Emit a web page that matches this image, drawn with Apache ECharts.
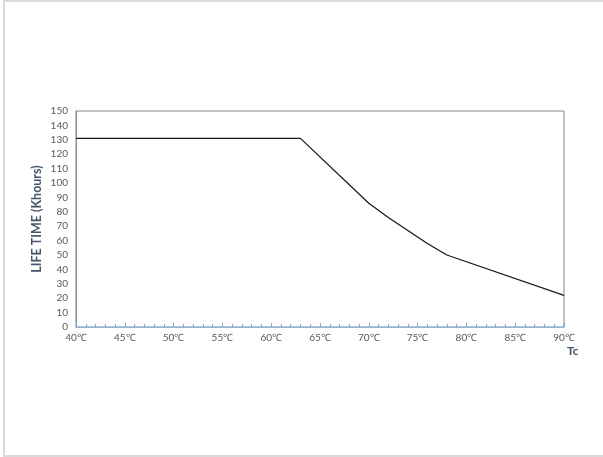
<!DOCTYPE html>
<html>
<head>
<meta charset="utf-8">
<script src="https://cdn.jsdelivr.net/npm/echarts@6/dist/echarts.min.js"></script>
<style>
  html, body { margin: 0; padding: 0; background: #fff; }
  #chart { width: 603px; height: 457px; }
</style>
</head>
<body>
<div id="chart"></div>
<script>
// case temperature (°C) vs life time (Khours)
let temps = [40, 63, 70, 72, 74, 76, 78, 90];
let life = [131, 131, 86, 76, 67, 58, 50, 22];

let font = 'Lato, "Open Sans", sans-serif';

let option = {
    animation: false,
    backgroundColor: '#fff',
    graphic: [
        // light frame round the chart area
        { type: 'rect', shape: { x: 3, y: 0, width: 602, height: 2 }, style: { fill: '#d9d9d9' } },
        { type: 'rect', shape: { x: 3, y: 0, width: 2, height: 457 }, style: { fill: '#d9d9d9' } },
        { type: 'rect', shape: { x: 3, y: 455, width: 602, height: 2 }, style: { fill: '#d9d9d9' } }
    ],
    grid: {
        left: 76,
        right: 39,
        top: 111,
        bottom: 130,
        show: true,
        borderColor: '#7f8790',
        borderWidth: 1
    },
    xAxis: {
        type: 'value',
        min: 40,
        max: 90,
        interval: 5,
        name: 'Tc',
        nameLocation: 'end',
        nameGap: 3,
        nameTextStyle: {
            fontFamily: font, fontWeight: 'bold', fontSize: 12, color: '#44546a',
            verticalAlign: 'top', align: 'left', padding: [18, 0, 0, 0]
        },
        axisLine: { lineStyle: { color: '#8fb4d9', width: 1 } },
        axisTick: { inside: true, length: 4, lineStyle: { color: '#7ea6d0' } },
        minorTick: { show: true, splitNumber: 5, length: 3, lineStyle: { color: '#7ea6d0', width: 1 } },
        splitLine: { show: false },
        axisLabel: {
            formatter: v => v + '℃',
            fontFamily: font, fontSize: 10, color: '#595959', margin: 6
        }
    },
    yAxis: {
        type: 'value',
        min: 0,
        max: 150,
        interval: 10,
        name: 'LIFE TIME (Khours)',
        nameLocation: 'middle',
        nameGap: 33,
        nameMoveOverlap: false,
        nameTextStyle: { fontFamily: font, fontWeight: 'bold', fontSize: 12.5, color: '#44546a' },
        axisLine: { show: true, lineStyle: { color: '#7f8fa6' } },
        axisTick: { show: false },
        splitLine: { show: false },
        axisLabel: { fontFamily: font, fontSize: 10, color: '#595959', margin: 8 }
    },
    series: [
        {
            type: 'line',
            symbol: 'none',
            smooth: false,
            lineStyle: { color: '#1a1a1a', width: 1.3 },
            data: temps.map((t, i) => [t, life[i]])
        }
    ]
};

let chart = echarts.init(document.getElementById('chart'));
chart.setOption(option);
</script>
</body>
</html>
